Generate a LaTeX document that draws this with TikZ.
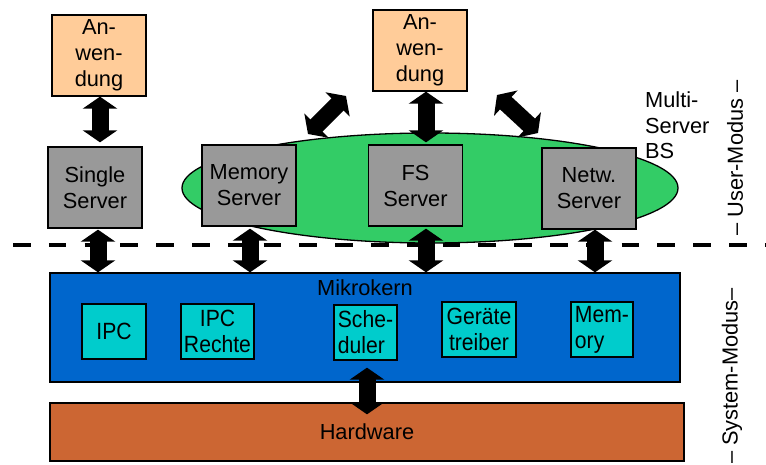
\documentclass[tikz,border=0pt]{standalone}
\usepackage{fontspec}
\setmainfont{Liberation Sans}
\newfontfamily\narrowfont[FakeStretch=0.9]{Liberation Sans}
\usetikzlibrary{arrows.meta,calc,shapes.geometric}
\definecolor{anwc}{HTML}{FFCC99}
\definecolor{srvc}{HTML}{999999}
\definecolor{multic}{HTML}{33CC66}
\definecolor{mkc}{HTML}{0066CC}
\definecolor{kernc}{HTML}{00CCCC}
\definecolor{hwc}{HTML}{CC6633}
\begin{document}
\begin{tikzpicture}[x=1pt,y=-1pt,
  box/.style={draw=black, line width=1.3pt, inner sep=0pt, align=center, font=\fontsize{21.8}{26}\selectfont},
  appbox/.style={box, fill=anwc, minimum width=94pt, minimum height=81pt},
  srvbox/.style={box, fill=srvc, minimum width=94pt, minimum height=81pt},
  kbox/.style={draw=black, line width=1.3pt, fill=kernc, inner sep=0pt, font=\narrowfont\fontsize{23.5}{26}\selectfont, minimum height=55pt},
  dblarrow/.style={line width=17pt, {Triangle[width=34pt,length=12pt]}-{Triangle[width=34pt,length=12pt]}},
  lbl/.style={font=\fontsize{21.8}{25.5}\selectfont, inner sep=0pt}]
\useasboundingbox (0,0) rectangle (766,465);

% multi-server ellipse
\node[ellipse, draw=black, line width=1.3pt, fill=multic, minimum width=496pt, minimum height=110pt, inner sep=0pt] (multi) at (430,188) {};

% application boxes
\node[appbox] (anw1) at (99,55.5) {An-\\wen-\\dung};
\node[appbox] (anw2) at (420,50.5) {An-\\wen-\\dung};

% servers
\node[srvbox] (single) at (95,187.5) {Single\\Server};
\node[srvbox] (memsrv) at (249,185.5) {Memory\\Server};
\node[srvbox] (fssrv) at (415.5,185.5) {FS\\Server};
\node[srvbox] (netsrv) at (589,188.5) {Netw.\\Server};

\node[lbl, align=left, anchor=north west] (msbs) at (645,92) {Multi-\\Server\\BS};
\node[lbl, rotate=90] (umodus) at (735,158) {– User-Modus –};

% dashed mode boundary
\coordinate (dl) at (13,245);
\coordinate (dr) at (766,245);
\draw[line width=4pt, dash pattern=on 17.5pt off 18.3pt] (dl) -- (dr);

% kernel
\node[draw=black, line width=1.3pt, fill=mkc, minimum width=630pt, minimum height=109pt, inner sep=0pt] (mk) at (365,327.5) {};
\node[lbl] (mklabel) at (365,288) {Mikrokern};
\node[kbox, minimum width=64pt, align=center] (ipc) at (114,331.5) {IPC};
\node[kbox, minimum width=73pt, align=center] (ipcr) at (217.5,331.5) {IPC\\Rechte};
\node[kbox, minimum width=63pt, align=left] (sched) at (365.5,332.5) {Sche-\\duler};
\node[kbox, minimum width=74pt, align=center] (gt) at (479,329.5) {Geräte\\treiber};
\node[kbox, minimum width=62pt, align=left] (mem) at (602,329.5) {Mem-\\ory};

% hardware
\node[draw=black, line width=1.3pt, fill=hwc, minimum width=634pt, minimum height=58pt, inner sep=0pt, lbl] (hw) at (367,432) {Hardware};

\node[lbl, rotate=90] (smodus) at (732,376) {– System-Modus–};

% arrows
\draw[dblarrow] ($(anw1.south)+(1,0)$) -- ($(anw1.south |- single.north)+(1,-4)$);
\draw[dblarrow] ($(anw2.south)+(6,0)$) -- ($(anw2.south |- fssrv.north)+(6,-2)$);

\coordinate (d1a) at (308,134);
\coordinate (d1b) at (346,96);
\coordinate (d2a) at (497,95);
\coordinate (d2b) at (538,133);
\draw[dblarrow] (d1a) -- (d1b);
\draw[dblarrow] (d2a) -- (d2b);

\draw[dblarrow] ($(single.south)+(3,1)$) -- ($(single.south |- mk.north)+(3,0)$);
\draw[dblarrow] ($(memsrv.south)+(1,2)$) -- ($(memsrv.south |- mk.north)+(1,0)$);
\draw[dblarrow] ($(fssrv.south)+(10.5,2)$) -- ($(fssrv.south |- mk.north)+(10.5,0)$);
\draw[dblarrow] ($(netsrv.south)+(6,0)$) -- ($(netsrv.south |- mk.north)+(6,0)$);

\draw[dblarrow] ($(sched.south)+(1.5,7)$) -- ($(sched.south |- hw.north)+(1.5,12)$);
\end{tikzpicture}
\end{document}
